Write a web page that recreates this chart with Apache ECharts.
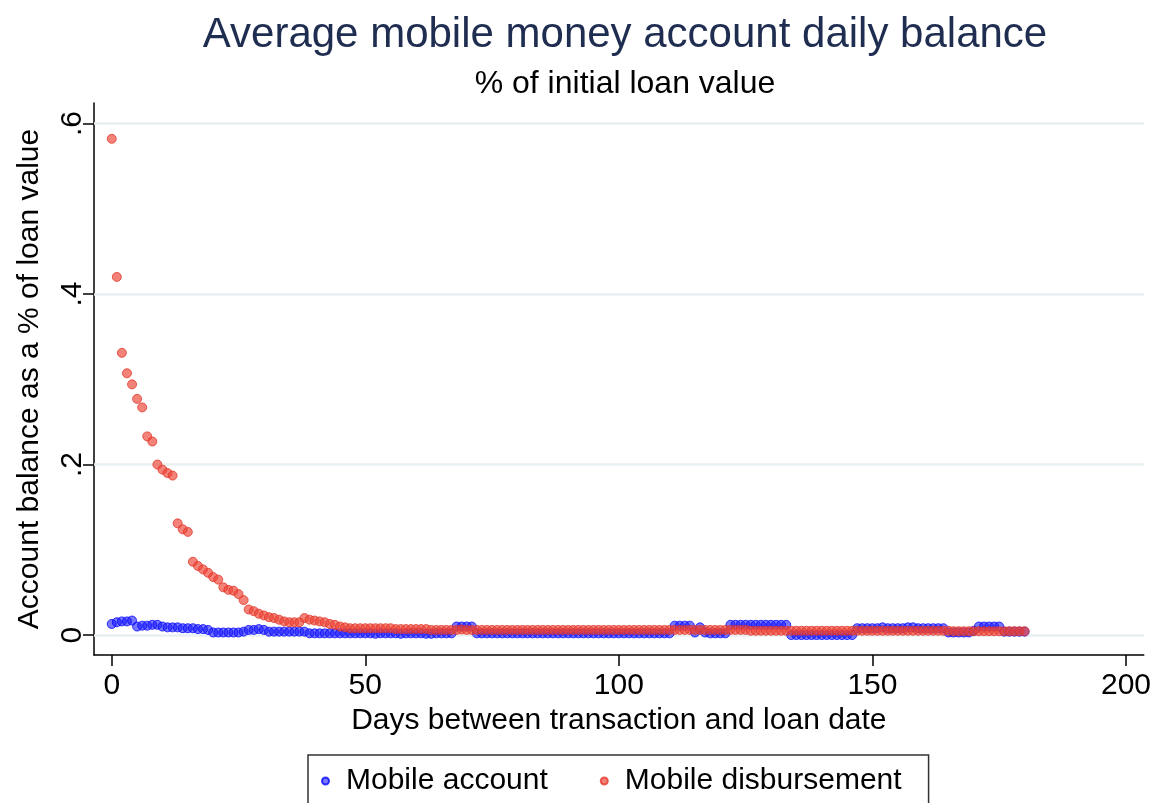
<!DOCTYPE html>
<html>
<head>
	<meta charset="utf-8">
	<title>Average mobile money account daily balance</title>
	<script src="https://cdn.jsdelivr.net/npm/echarts@6/dist/echarts.min.js"></script>
	<style>
		* {
			margin: 0;
			padding: 0;
		}
		#main {
			width: 1154px;
			height: 803px;
			background: #fff;
		}
	</style>
</head>
<body>
	<div id="main"></div>
	<script>
		// 横轴刻度 / 纵轴刻度
		let xTicks = [0, 50, 100, 150, 200];
		let yTicks = [0, 0.2, 0.4, 0.6];
		let seriesNames = ['Mobile account', 'Mobile disbursement'];

		// day 0 .. 180, one value per day
		let mobileAccount = [
			0.013, 0.015, 0.016, 0.016, 0.017, 0.010, 0.011, 0.011, 0.012, 0.012,
			0.010, 0.009, 0.009, 0.009, 0.008, 0.008, 0.008, 0.007, 0.007, 0.006,
			0.003, 0.003, 0.003, 0.003, 0.003, 0.003, 0.004, 0.006, 0.006, 0.007,
			0.006, 0.004, 0.004, 0.004, 0.004, 0.004, 0.004, 0.004, 0.004, 0.002,
			0.002, 0.002, 0.002, 0.002, 0.002, 0.002, 0.002, 0.002, 0.002, 0.002,
			0.002, 0.002, 0.0015, 0.002, 0.002, 0.002, 0.002, 0.0015, 0.002, 0.002,
			0.002, 0.002, 0.0015, 0.0015, 0.002, 0.002, 0.002, 0.002, 0.010, 0.010,
			0.010, 0.010, 0.002, 0.002, 0.002, 0.002, 0.002, 0.002, 0.002, 0.002,
			0.002, 0.002, 0.002, 0.002, 0.002, 0.002, 0.002, 0.002, 0.002, 0.002,
			0.002, 0.002, 0.002, 0.002, 0.002, 0.002, 0.002, 0.002, 0.002, 0.002,
			0.002, 0.002, 0.002, 0.002, 0.002, 0.002, 0.002, 0.002, 0.002, 0.002,
			0.002, 0.011, 0.011, 0.011, 0.011, 0.003, 0.009, 0.003, 0.002, 0.002,
			0.002, 0.002, 0.012, 0.012, 0.012, 0.012, 0.012, 0.012, 0.012, 0.012,
			0.012, 0.012, 0.012, 0.012, 0.000, 0.000, 0.000, 0.000, 0.000, 0.000,
			0.000, 0.000, 0.000, 0.000, 0.000, 0.000, 0.000, 0.008, 0.008, 0.008,
			0.008, 0.008, 0.009, 0.008, 0.008, 0.008, 0.008, 0.009, 0.009, 0.008,
			0.008, 0.008, 0.008, 0.008, 0.008, 0.003, 0.003, 0.003, 0.003, 0.003,
			0.005, 0.010, 0.010, 0.010, 0.010, 0.010, 0.004, 0.004, 0.004, 0.004,
			0.004
		];
		let mobileDisbursement = [
			0.582, 0.420, 0.331, 0.307, 0.294, 0.277, 0.267, 0.233, 0.227, 0.200,
			0.194, 0.190, 0.187, 0.131, 0.124, 0.121, 0.086, 0.081, 0.077, 0.073,
			0.068, 0.065, 0.056, 0.053, 0.052, 0.048, 0.041, 0.030, 0.028, 0.025,
			0.023, 0.021, 0.020, 0.018, 0.016, 0.015, 0.015, 0.015, 0.020, 0.018,
			0.017, 0.016, 0.015, 0.013, 0.012, 0.010, 0.009, 0.008, 0.008, 0.008,
			0.008, 0.008, 0.008, 0.008, 0.008, 0.008, 0.007, 0.007, 0.007, 0.007,
			0.007, 0.007, 0.007, 0.006, 0.006, 0.006, 0.006, 0.006, 0.006, 0.0065,
			0.006, 0.006, 0.006, 0.006, 0.006, 0.006, 0.006, 0.006, 0.006, 0.006,
			0.006, 0.006, 0.006, 0.006, 0.006, 0.006, 0.006, 0.006, 0.006, 0.006,
			0.006, 0.006, 0.006, 0.006, 0.006, 0.006, 0.006, 0.006, 0.006, 0.006,
			0.006, 0.006, 0.006, 0.006, 0.006, 0.006, 0.006, 0.006, 0.006, 0.006,
			0.006, 0.006, 0.006, 0.006, 0.006, 0.006, 0.006, 0.006, 0.006, 0.006,
			0.006, 0.006, 0.006, 0.006, 0.006, 0.006, 0.005, 0.005, 0.005, 0.005,
			0.005, 0.005, 0.005, 0.005, 0.005, 0.005, 0.005, 0.005, 0.005, 0.005,
			0.005, 0.005, 0.005, 0.005, 0.005, 0.005, 0.005, 0.005, 0.005, 0.005,
			0.005, 0.005, 0.005, 0.005, 0.005, 0.005, 0.005, 0.005, 0.005, 0.005,
			0.005, 0.005, 0.005, 0.005, 0.005, 0.005, 0.0045, 0.0045, 0.0045, 0.0045,
			0.0045, 0.0045, 0.0045, 0.0045, 0.0045, 0.0045, 0.0045, 0.0045, 0.0045, 0.0045,
			0.0045
		];

		let myFont = "'Liberation Sans', Arial, Helvetica, sans-serif";
		let myColor = ['rgba(20, 20, 255, 0.72)', 'rgba(236, 66, 50, 0.82)'];
		let myChart = echarts.init(document.getElementById('main'));

		function toPoints(list) {
			return list.map((v, i) => [i, v]);
		}

		function yLabel(v) {
			if (v === 0) return '0';
			return String(Math.round(v * 10) / 10).replace(/^0/, '');
		}

		let option = {
			backgroundColor: '#ffffff',
			animation: false,
			textStyle: {
				fontFamily: myFont
			},
			title: [{
				text: 'Average mobile money account daily balance',
				left: 620,
				top: 9,
				textAlign: 'center',
				textStyle: {
					fontSize: 42,
					fontWeight: 'normal',
					color: '#1f2d50',
					fontFamily: myFont
				}
			}, {
				text: '% of initial loan value',
				left: 620,
				top: 63,
				textAlign: 'center',
				textStyle: {
					fontSize: 32,
					fontWeight: 'normal',
					color: '#000',
					fontFamily: myFont
				}
			}],
			legend: {
				data: seriesNames,
				left: 308,
				top: 755,
				icon: 'circle',
				itemWidth: 7,
				itemHeight: 7,
				itemGap: 52,
				padding: [11, 27, 40, 13],
				borderColor: '#333',
				borderWidth: 1.5,
				textStyle: {
					fontSize: 30,
					color: '#000',
					fontFamily: myFont,
					padding: [0, 0, 0, 12]
				}
			},
			grid: {
				left: 94,
				top: 103,
				right: 7,
				bottom: 148
			},
			xAxis: {
				type: 'value',
				min: -3.5,
				max: 203.5,
				name: 'Days between transaction and loan date',
				nameLocation: 'middle',
				nameGap: 49,
				nameTextStyle: {
					fontSize: 30,
					color: '#000'
				},
				axisLine: {
					onZero: false,
					lineStyle: {
						color: '#000',
						width: 1.5
					}
				},
				axisTick: {
					length: 11,
					customValues: xTicks,
					lineStyle: {
						color: '#000',
						width: 1.5
					}
				},
				axisLabel: {
					customValues: xTicks,
					fontSize: 30,
					color: '#000',
					margin: 16
				},
				splitLine: {
					show: false
				}
			},
			yAxis: {
				type: 'value',
				min: -0.0234,
				max: 0.624,
				name: 'Account balance as a % of loan value',
				nameLocation: 'middle',
				nameGap: 49,
				nameTextStyle: {
					fontSize: 30,
					color: '#000'
				},
				axisLine: {
					show: true,
					onZero: false,
					lineStyle: {
						color: '#000',
						width: 1.5
					}
				},
				axisTick: {
					show: true,
					length: 11,
					customValues: yTicks,
					lineStyle: {
						color: '#000',
						width: 1.5
					}
				},
				axisLabel: {
					customValues: yTicks,
					rotate: 90,
					fontSize: 30,
					color: '#000',
					margin: 6,
					formatter: yLabel
				},
				splitLine: {
					show: false
				}
			},
			series: [{
				// 网格线, 放在点的下面
				type: 'line',
				name: 'grid',
				data: [],
				silent: true,
				z: 1,
				markLine: {
					silent: true,
					z: 1,
					symbol: 'none',
					label: {
						show: false
					},
					lineStyle: {
						type: 'solid',
						color: '#e9f0f2',
						width: 2.5
					},
					data: yTicks.map(v => ({ yAxis: v }))
				}
			}, {
				type: 'scatter',
				name: seriesNames[0],
				data: toPoints(mobileAccount),
				symbolSize: 9,
				z: 10,
				itemStyle: {
					color: myColor[0],
					borderColor: 'rgba(0, 0, 255, 0.95)',
					borderWidth: 1
				}
			}, {
				type: 'scatter',
				name: seriesNames[1],
				data: toPoints(mobileDisbursement),
				symbolSize: 9,
				z: 11,
				itemStyle: {
					color: myColor[1],
					borderColor: 'rgba(225, 50, 38, 0.95)',
					borderWidth: 1
				}
			}]
		};
		myChart.setOption(option);
	</script>
</body>
</html>
